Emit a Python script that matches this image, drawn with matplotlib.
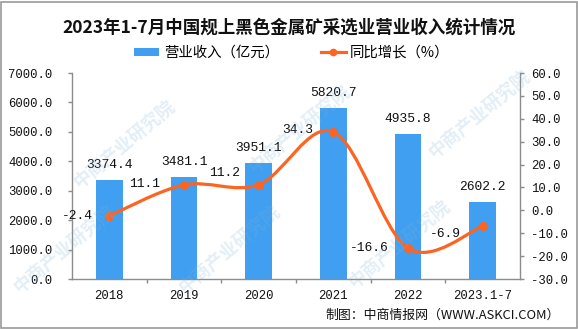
import matplotlib
matplotlib.use('Agg')
import matplotlib.pyplot as plt
from matplotlib.path import Path
from matplotlib.patches import PathPatch, Patch, Rectangle
from matplotlib.lines import Line2D
from matplotlib.ticker import FuncFormatter, MultipleLocator, FixedLocator
from matplotlib.font_manager import FontProperties

plt.rcParams['axes.unicode_minus'] = False

categories = ['2018', '2019', '2020', '2021', '2022', '2023.1-7']
revenue = [3374.4, 3481.1, 3951.1, 5820.7, 4935.8, 2602.2]   # 亿元
growth = [-2.4, 11.1, 11.2, 34.3, -16.6, -6.9]               # %

title = '2023年1-7月中国规上黑色金属矿采选业营业收入统计情况'
bar_name = '营业收入（亿元）'
line_name = '同比增长（%）'
source = '制图：中商情报网（WWW.ASKCI.COM）'

BAR_COLOR = '#409ff0'
LINE_COLOR = '#fb6421'
AXIS_COLOR = '#8c8c8c'
CJK = ['Noto Sans CJK SC', 'DejaVu Sans']
MONO = 'Liberation Mono'

# text offsets (points) for the growth labels, relative to each point
growth_label_offsets = [(-11.5, 0), (-17, 1), (-13.7, 8.6), (-14.4, 1.5), (-13.7, 0), (-15.8, -5.8)]

fig = plt.figure(figsize=(5.78, 3.29), dpi=100)
ax = fig.add_axes([72 / 578, 1 - 279 / 329, (520 - 72) / 578, (279 - 73) / 329])
ax.set_facecolor('none')
ax2 = ax.twinx()

x = list(range(len(categories)))

# bars
bars = ax.bar(x, revenue, width=0.355, color=BAR_COLOR, zorder=2)
for xi, v in zip(x, revenue):
    ax.annotate(f'{v:.1f}', (xi, v), xytext=(0, 10.8), textcoords='offset points',
                ha='center', va='center', fontsize=9.4, family=MONO, color='#111111', zorder=5)

ax.set_xlim(-0.5, len(categories) - 0.5)
ax.set_ylim(0, 7000)
ax.yaxis.set_major_locator(MultipleLocator(1000))
ax.yaxis.set_major_formatter(FuncFormatter(lambda v, p: f'{v:.1f}'))
ax.set_xticks(x)
ax.set_xticklabels(categories)
ax.xaxis.set_minor_locator(FixedLocator([i + 0.5 for i in x[:-1]]))
ax.tick_params(axis='x', which='major', length=0, pad=8, labelsize=8.8, colors='#111111')
ax.tick_params(axis='x', which='minor', length=3, width=1, color=AXIS_COLOR, direction='out')
ax.tick_params(axis='y', length=3, width=1, color=AXIS_COLOR, pad=11, labelsize=8.8,
               labelcolor='#111111', direction='out')
for lab in ax.get_xticklabels() + ax.get_yticklabels():
    lab.set_family(MONO)

for s in ['top', 'right']:
    ax.spines[s].set_visible(False)
for s in ['left', 'bottom']:
    ax.spines[s].set_color(AXIS_COLOR)
    ax.spines[s].set_linewidth(1)

# growth line: smooth curve through the points
ax2.set_ylim(-30, 60)
ax2.yaxis.set_major_locator(MultipleLocator(10))
ax2.yaxis.set_major_formatter(FuncFormatter(lambda v, p: f'{v:.1f}'))
ax2.tick_params(axis='y', length=3, width=1, color=AXIS_COLOR, pad=5, labelsize=8.8,
                labelcolor='#111111', direction='out')
for lab in ax2.get_yticklabels():
    lab.set_family(MONO)
for s in ['top', 'left', 'bottom']:
    ax2.spines[s].set_visible(False)
ax2.spines['right'].set_color(AXIS_COLOR)
ax2.spines['right'].set_linewidth(1)

pts = list(zip(x, growth))
verts = [pts[0]]
codes = [Path.MOVETO]
n = len(pts)
for i in range(n - 1):
    p0 = pts[max(i - 1, 0)]
    p1 = pts[i]
    p2 = pts[i + 1]
    p3 = pts[min(i + 2, n - 1)]
    c1 = (p1[0] + (p2[0] - p0[0]) / 6, p1[1] + (p2[1] - p0[1]) / 6)
    c2 = (p2[0] - (p3[0] - p1[0]) / 6, p2[1] - (p3[1] - p1[1]) / 6)
    verts += [c1, c2, p2]
    codes += [Path.CURVE4] * 3
ax2.add_patch(PathPatch(Path(verts, codes), facecolor='none', edgecolor=LINE_COLOR,
                        lw=2.3, capstyle='round', joinstyle='round', zorder=3))
ax2.plot(x, growth, linestyle='none', marker='o', markersize=5.5, color=LINE_COLOR, zorder=4)
for xi, v, off in zip(x, growth, growth_label_offsets):
    ax2.annotate(f'{v:.1f}', (xi, v), xytext=off, textcoords='offset points',
                 ha='right', va='center', fontsize=9.4, family=MONO, color='#111111', zorder=5)

# title, legend, source
fig.text(0.5, 1 - 28 / 329, title, ha='center', va='center', fontsize=12.6,
         fontweight='bold', family=CJK, color='#111111')

handles = [Patch(facecolor=BAR_COLOR, edgecolor='none'),
           Line2D([], [], color=LINE_COLOR, lw=2.3, marker='o', markersize=4.5)]
fig.legend(handles, [bar_name, line_name], loc='center', bbox_to_anchor=(0.505, 1 - 53 / 329),
           ncol=2, frameon=False, prop=FontProperties(family=CJK, size=10.4),
           handlelength=1.75, handleheight=0.45, handletextpad=0.3, columnspacing=2.9)

fig.text(560 / 578, 1 - 315 / 329, source, ha='right', va='center', fontsize=9.3,
         family=CJK, color='#111111')

# faint watermark
for cx, cy in [(125, 145), (300, 130), (480, 115), (65, 250), (230, 250), (400, 245)]:
    fig.text(cx / 578, 1 - cy / 329, '中商产业研究院', ha='center', va='center', rotation=40,
             fontsize=13, fontweight='bold', family=CJK, color='#7fb3dd', alpha=0.22, zorder=10)

# outer frame
fig.patches.append(Rectangle((0.5 / 578, 1.5 / 329), 576.5 / 578, 326 / 329,
                             transform=fig.transFigure, fill=False, edgecolor='#9a9a9a', lw=1.2))

fig.savefig('out.png', dpi=100)
